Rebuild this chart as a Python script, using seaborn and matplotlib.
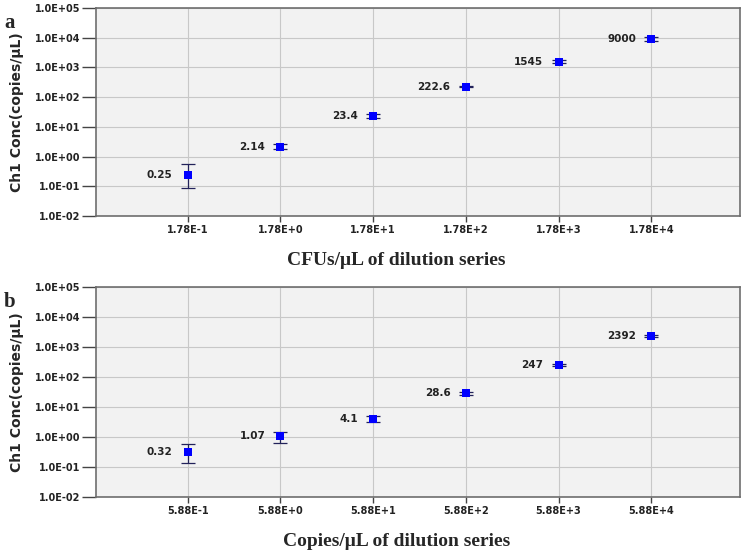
import numpy as np
import pandas as pd
import seaborn as sb
import matplotlib
matplotlib.use("Agg")
import matplotlib.pyplot as plt
from matplotlib.ticker import FixedLocator, NullLocator

# panel a - bacterial dilution series (CFUs/uL)
cfu_x = [0.178, 1.78, 17.8, 178, 1780, 17800]
cfu_labels = ["1.78E-1", "1.78E+0", "1.78E+1", "1.78E+2", "1.78E+3", "1.78E+4"]
cfu_conc = [0.25, 2.14, 23.4, 222.6, 1545, 9000]
cfu_low = [0.089, 1.75, 20.5, 210, 1350, 7800]
cfu_high = [0.55, 2.7, 26.5, 236, 1750, 10400]
cfu_text = ["0.25", "2.14", "23.4", "222.6", "1545", "9000"]

# panel b - plasmid dilution series (copies/uL)
cop_x = [0.588, 5.88, 58.8, 588, 5880, 58800]
cop_labels = ["5.88E-1", "5.88E+0", "5.88E+1", "5.88E+2", "5.88E+3", "5.88E+4"]
cop_conc = [0.32, 1.07, 4.1, 28.6, 247, 2392]
cop_low = [0.135, 0.65, 3.2, 26, 225, 2200]
cop_high = [0.6, 1.5, 5.0, 31.5, 270, 2600]
cop_text = ["0.32", "1.07", "4.1", "28.6", "247", "2392"]

y_ticks = [1e-2, 1e-1, 1e0, 1e1, 1e2, 1e3, 1e4, 1e5]
y_labels = ["1.0E-02", "1.0E-01", "1.0E+00", "1.0E+01", "1.0E+02", "1.0E+03", "1.0E+04", "1.0E+05"]

sb.set_style("whitegrid", {"axes.facecolor": "#f2f2f2", "grid.color": "#c8c8c8",
                           "axes.edgecolor": "#6e6e6e"})

fig = plt.figure(figsize=(7.5, 5.53), dpi=100)
ax_a = fig.add_axes([0.128, 0.609, 0.859, 0.377])
ax_b = fig.add_axes([0.128, 0.101, 0.859, 0.380])


def draw_panel(ax, xs, xlabels, conc, low, high, texts, xlabel, letter, letter_y):
    df = pd.DataFrame({"x": xs, "conc": conc})
    err = [np.array(conc) - np.array(low), np.array(high) - np.array(conc)]
    ax.errorbar(xs, conc, yerr=err, fmt="none", ecolor="#22225a", elinewidth=0.9,
                capsize=5, capthick=0.9, zorder=3)
    sb.scatterplot(data=df, x="x", y="conc", marker="s", color="#0000ff", s=28,
                   edgecolor="#0000ff", linewidth=0, ax=ax, zorder=4)
    ax.set_xscale("log")
    ax.set_yscale("log")
    ax.set_xlim(xs[0] / 10 ** 0.99, xs[-1] * 10 ** 0.96)
    ax.set_ylim(1e-2, 1e5)
    ax.xaxis.set_major_locator(FixedLocator(xs))
    ax.xaxis.set_minor_locator(NullLocator())
    ax.set_xticklabels(xlabels)
    ax.yaxis.set_major_locator(FixedLocator(y_ticks))
    ax.yaxis.set_minor_locator(NullLocator())
    ax.set_yticklabels(y_labels)
    ax.tick_params(axis="y", length=10, width=1, color="#444444", pad=1.5, left=True)
    ax.tick_params(axis="x", length=4, width=1, color="#444444", pad=2.5, bottom=True)
    for lab in ax.get_xticklabels() + ax.get_yticklabels():
        lab.set_fontsize(7)
        lab.set_fontweight("bold")
        lab.set_color("#222222")
    ax.grid(True, linewidth=0.8)
    for sp in ax.spines.values():
        sp.set_linewidth(1.2)
    for x, y, t in zip(xs, conc, texts):
        ax.annotate(t, (x, y), xytext=(-11, 0), textcoords="offset points",
                    ha="right", va="center", fontsize=7.5, fontweight="bold", color="#222222")
    ax.set_xlabel(xlabel, fontsize=14, fontweight="bold", family="Liberation Serif")
    ax.xaxis.set_label_coords(0.466, -0.17)
    ax.set_ylabel("Ch1 Conc(copies/\u03bcL)", fontsize=10, fontweight="bold")
    ax.yaxis.set_label_coords(-0.112, 0.5)
    fig.text(10 / 750, letter_y, letter, fontsize=15, fontweight="bold",
             family="Liberation Serif", ha="center", va="center")


draw_panel(ax_a, cfu_x, cfu_labels, cfu_conc, cfu_low, cfu_high, cfu_text,
           "CFUs/\u03bcL of dilution series", "a", 1 - 23 / 553)
draw_panel(ax_b, cop_x, cop_labels, cop_conc, cop_low, cop_high, cop_text,
           "Copies/\u03bcL of dilution series", "b", 1 - 302 / 553)

fig.savefig("out.png", dpi=100)
